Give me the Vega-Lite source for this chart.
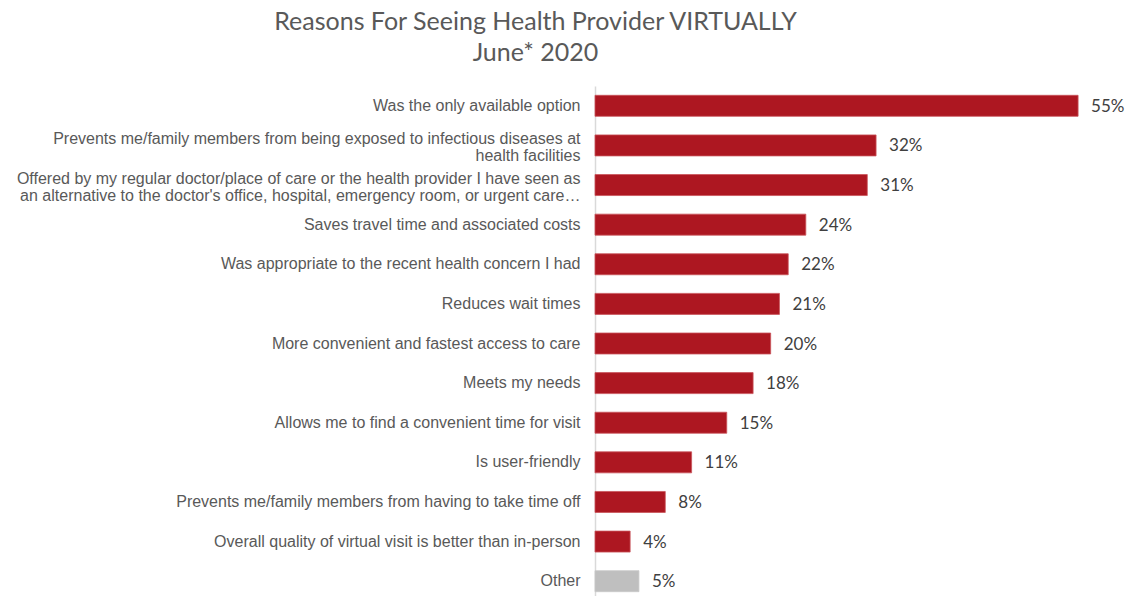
{
  "$schema": "https://vega.github.io/schema/vega-lite/v6.json",
  "width": 527,
  "height": 515,
  "autosize": {"type": "none"},
  "padding": {"left": 595, "top": 86, "right": 6, "bottom": 0},
  "background": "white",
  "title": {
    "text": ["Reasons For Seeing Health Provider VIRTUALLY", "June* 2020"],
    "font": "Lato",
    "fontSize": 25,
    "fontWeight": "normal",
    "color": "#595959",
    "anchor": "middle",
    "dx": -323,
    "lineHeight": 31,
    "offset": 20
  },
  "data": {
    "values": [
      {"reason": "Was the only available option", "value": 0.55, "group": "main"},
      {"reason": "Prevents me/family members from being exposed to infectious diseases at|health facilities", "value": 0.32, "group": "main"},
      {"reason": "Offered by my regular doctor/place of care or the health provider I have seen as|an alternative to the doctor's office, hospital, emergency room, or urgent care…", "value": 0.31, "group": "main"},
      {"reason": "Saves travel time and associated costs", "value": 0.24, "group": "main"},
      {"reason": "Was appropriate to the recent health concern I had", "value": 0.22, "group": "main"},
      {"reason": "Reduces wait times", "value": 0.21, "group": "main"},
      {"reason": "More convenient and fastest access to care", "value": 0.20, "group": "main"},
      {"reason": "Meets my needs", "value": 0.18, "group": "main"},
      {"reason": "Allows me to find a convenient time for visit", "value": 0.15, "group": "main"},
      {"reason": "Is user-friendly", "value": 0.11, "group": "main"},
      {"reason": "Prevents me/family members from having to take time off", "value": 0.08, "group": "main"},
      {"reason": "Overall quality of virtual visit is better than in-person", "value": 0.04, "group": "main"},
      {"reason": "Other", "value": 0.05, "group": "other"}
    ]
  },
  "encoding": {
    "y": {
      "field": "reason",
      "type": "nominal",
      "sort": null,
      "scale": {"paddingInner": 0.47, "paddingOuter": 0.235},
      "axis": {
        "title": null,
        "ticks": false,
        "domain": true,
        "domainColor": "#D9D9D9",
        "domainWidth": 1.5,
        "labelFont": "Liberation Sans",
        "labelFontSize": 16,
        "labelColor": "#595959",
        "labelPadding": 15,
        "labelLimit": 700,
        "labelAlign": "right",
        "labelBaseline": "middle",
        "labelLineHeight": 17,
        "labelOffset": {"expr": "indexof(datum.value, '|') >= 0 ? -6.5 : 0"},
        "labelExpr": "split(datum.label, '|')"
      }
    },
    "x": {
      "field": "value",
      "type": "quantitative",
      "scale": {"domain": [0, 0.6]},
      "axis": null
    }
  },
  "layer": [
    {
      "mark": {"type": "bar", "strokeWidth": 0.8},
      "encoding": {
        "color": {
          "field": "group",
          "type": "nominal",
          "scale": {"domain": ["main", "other"], "range": ["#AD1721", "#BFBFBF"]},
          "legend": null
        },
        "stroke": {
          "field": "group",
          "type": "nominal",
          "scale": {"domain": ["main", "other"], "range": ["#C9545A", "#C8C8C8"]},
          "legend": null
        }
      }
    },
    {
      "mark": {"type": "text", "align": "left", "baseline": "middle", "dx": 13, "dy": 1, "font": "Lato", "fontSize": 17, "color": "#404040"},
      "encoding": {
        "text": {"field": "value", "type": "quantitative", "format": ".0%"}
      }
    }
  ],
  "config": {"view": {"stroke": null}}
}
